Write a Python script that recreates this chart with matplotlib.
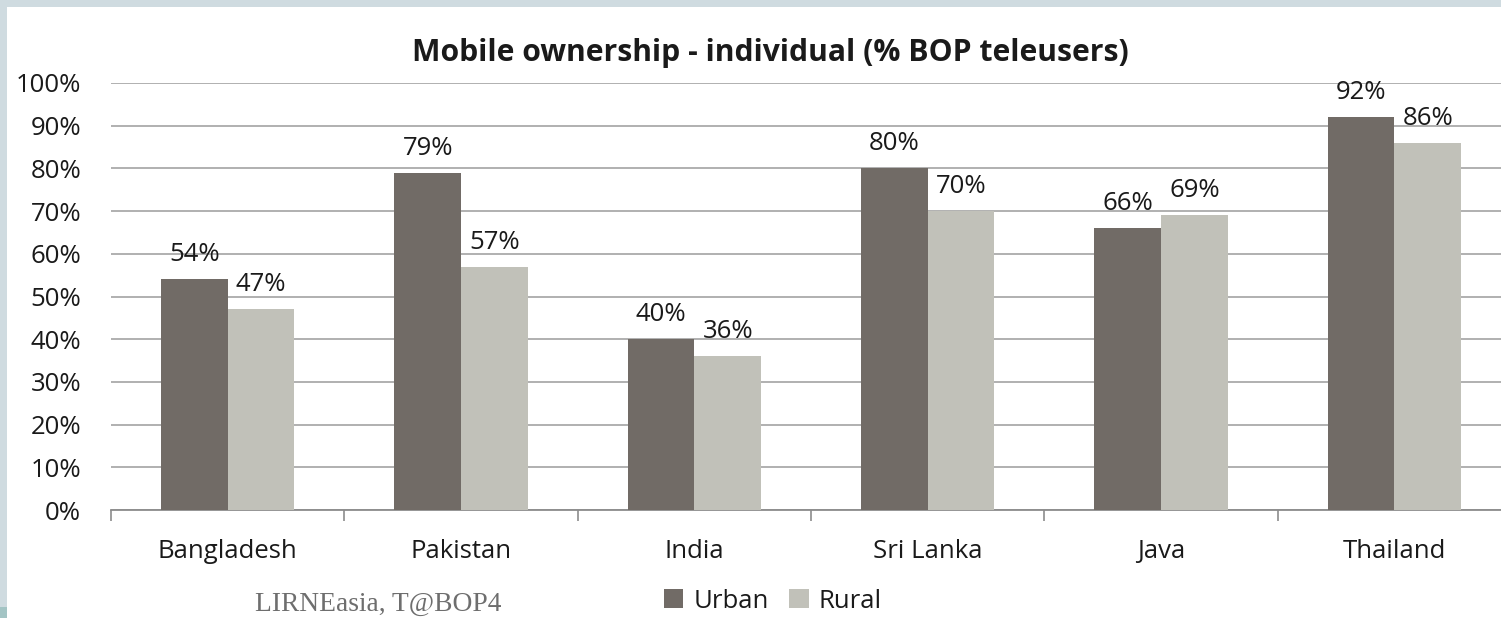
import matplotlib
matplotlib.use("Agg")
import matplotlib.pyplot as plt
from matplotlib.patches import Rectangle, Patch
import numpy as np

categories = ["Bangladesh", "Pakistan", "India", "Sri Lanka", "Java", "Thailand"]
urban = [54, 79, 40, 80, 66, 92]
rural = [47, 57, 36, 70, 69, 86]
series_names = ["Urban", "Rural"]
yticks = [0, 10, 20, 30, 40, 50, 60, 70, 80, 90, 100]

c_urban = "#716b66"
c_rural = "#c1c1b9"
text_c = "#1a1a1a"
font = ["Open Sans", "DejaVu Sans"]
fs = 18.5

W, H = 1501, 618
fig = plt.figure(figsize=(W / 100, H / 100), dpi=100)
fig.patch.set_facecolor("#cfdbe0")
fig.patches.append(Rectangle((7 / W, 0), 1 - 7 / W, 1 - 7 / H, transform=fig.transFigure,
                             facecolor="white", edgecolor="none", zorder=-10))
fig.patches.append(Rectangle((0, 0), 7 / W, 11 / H, transform=fig.transFigure,
                             facecolor="#a3c4c4", edgecolor="none", zorder=-10))

left = 111 / W
bottom = 1 - 510 / H
top = 1 - 83 / H
ax = fig.add_axes([left, bottom, 1 - left, top - bottom])
ax.set_zorder(2)
ax.set_facecolor("none")

x = np.arange(len(categories))
bw = 0.286
b1 = ax.bar(x - bw / 2, urban, bw, color=c_urban, zorder=3)
b2 = ax.bar(x + bw / 2, rural, bw, color=c_rural, zorder=3)

for bars, vals in ((b1, urban), (b2, rural)):
    for r, v in zip(bars, vals):
        ax.text(r.get_x() + r.get_width() / 2, v + 2.8, f"{v}%", ha="center", va="bottom",
                fontsize=fs, color=text_c, family=font, zorder=4)

ax.set_yticks(yticks)
ax.set_yticklabels([f"{t}%" for t in yticks], family=font, fontsize=fs, color=text_c)
ax.tick_params(axis="y", length=0, pad=21.5)
ax.yaxis.grid(True, color="#a3a3a3", linewidth=1.2, zorder=0)
ax.set_axisbelow(True)

ax.set_xticks(x)
ax.set_xticklabels(categories, family=font, fontsize=fs, color=text_c)
ax.tick_params(axis="x", length=0, pad=21)
ax.set_xticks(np.arange(-0.5, 6, 1), minor=True)
ax.tick_params(axis="x", which="minor", length=8, color="#8c8c8c", width=1.2)

ax.set_ylim(0, 100)
ax.set_xlim(-0.5, 5.5 - 10 / 233.4)

for s in ("top", "right", "left"):
    ax.spines[s].set_visible(False)
ax.spines["bottom"].set_color("#8c8c8c")
ax.spines["bottom"].set_linewidth(1.3)

fig.text(770 / W, 1 - 52.5 / H, "Mobile ownership - individual (% BOP teleusers)",
         ha="center", va="center", fontsize=21.7, fontweight="bold", family=font, color=text_c)

fig.text(378 / W, 1 - 604 / H, "LIRNEasia, T@BOP4", ha="center", va="center",
         fontsize=19.8, family=["Liberation Serif"], color="#6e6e6e")

handles = [Patch(facecolor=c_urban), Patch(facecolor=c_rural)]
fig.legend(handles, series_names, loc="center", bbox_to_anchor=(773 / W, 1 - 601 / H),
           ncol=2, frameon=False, prop={"family": font, "size": fs},
           handlelength=0.75, handleheight=0.75, handletextpad=0.4, columnspacing=0.8,
           labelcolor=text_c)

fig.savefig("out.png", dpi=100, facecolor=fig.get_facecolor())
